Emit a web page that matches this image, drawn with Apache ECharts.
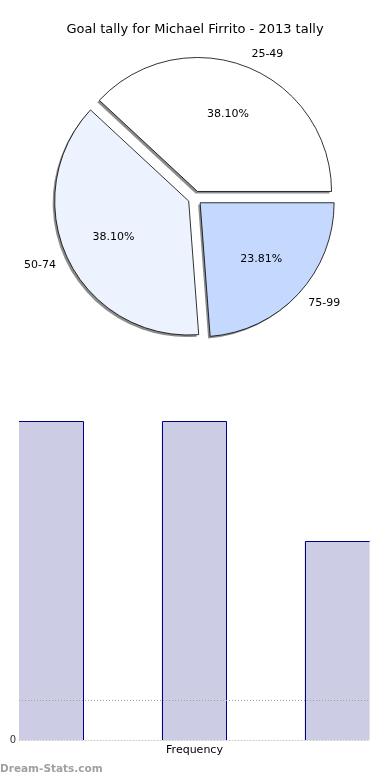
<!DOCTYPE html>
<html>
<head>
<meta charset="utf-8">
<script src="https://cdn.jsdelivr.net/npm/echarts@6/dist/echarts.min.js"></script>
<style>
  html, body { margin: 0; padding: 0; background: #fff; }
  #chart { width: 390px; height: 780px; }
</style>
</head>
<body>
<div id="chart"></div>
<script>
// ---- data ----
const titleText = 'Goal tally for Michael Firrito - 2013 tally';
const categories = ['25-49', '50-74', '75-99'];
const tallies = [8, 8, 5];
const sliceColors = ['#ffffff', '#ecf2fe', '#c5d8fd'];
const barPositions = [0, 1, 2];
const barValues = [8, 8, 5];
const yTickLabels = ['0'];
const refLineValues = [1];
const xAxisName = 'Frequency';
const watermark = 'Dream-Stats.com';

const FONT = 'DejaVu Sans';
const PIE_R = 134;
const PIE_CENTER = [195, 198];
const SHADOW_CENTER = [PIE_CENTER[0] - 2, PIE_CENTER[1] + 2];
const BAR_HALF = 32.5;
const tallyTotal = tallies.reduce((a, b) => a + b, 0);

const makePieData = (withColor) => categories.map((c, i) => {
  const d = { name: c, value: tallies[i], selected: true };
  if (withColor) d.itemStyle = { color: sliceColors[i] };
  return d;
});

const chart = echarts.init(document.getElementById('chart'), null, { renderer: 'canvas' });

const pieCommon = {
  type: 'pie',
  startAngle: 0,
  clockwise: false,
  selectedMode: 'multiple',
  selectedOffset: 7,
  avoidLabelOverlap: false,
  emphasis: { disabled: true },
  silent: true
};

const option = {
  animation: false,
  backgroundColor: '#ffffff',
  title: {
    text: titleText,
    left: 'center',
    top: 23,
    padding: 0,
    textStyle: { fontFamily: FONT, fontSize: 13, fontWeight: 'normal', color: '#000' }
  },
  grid: { left: 19, right: 20, top: 421, bottom: 40, containLabel: false },
  xAxis: {
    type: 'value',
    min: -0.225,
    max: 2.23,
    name: xAxisName,
    nameLocation: 'middle',
    nameGap: 5,
    nameTextStyle: { fontFamily: FONT, fontSize: 11, color: '#000' },
    axisLabel: { show: false },
    axisTick: { show: false },
    splitLine: { show: false },
    axisLine: { show: true, onZero: false, lineStyle: { color: '#c8c8c8', width: 1, type: [1, 2] } }
  },
  yAxis: {
    type: 'value',
    min: 0,
    max: 8,
    interval: 1,
    axisLine: { show: false },
    axisTick: { show: false },
    splitLine: { show: false },
    axisLabel: {
      margin: 3,
      fontFamily: FONT,
      fontSize: 10,
      color: '#333',
      formatter: (v) => (yTickLabels.indexOf(String(v)) >= 0 ? String(v) : '')
    }
  },
  graphic: [{
    type: 'text',
    left: 0,
    top: 764,
    style: { text: watermark, font: 'bold 10.5px "DejaVu Sans"', fill: '#a0a0a0' }
  }],
  series: [
    Object.assign({}, pieCommon, {
      center: SHADOW_CENTER,
      radius: PIE_R,
      z: 1,
      itemStyle: { color: 'rgba(0,0,0,0.45)', borderWidth: 0 },
      label: { show: false },
      labelLine: { show: false },
      data: makePieData(false)
    }),
    Object.assign({}, pieCommon, {
      center: PIE_CENTER,
      radius: PIE_R,
      z: 2,
      itemStyle: { borderColor: '#000', borderWidth: 0.8 },
      label: {
        show: true,
        position: 'outside',
        formatter: '{b}',
        fontFamily: FONT,
        fontSize: 11,
        color: '#000',
        distanceToLabelLine: 0
      },
      labelLine: { show: false, length: PIE_R * 0.1, length2: 0 },
      data: makePieData(true)
    }),
    Object.assign({}, pieCommon, {
      center: PIE_CENTER,
      radius: PIE_R * 1.2,
      z: 3,
      itemStyle: { color: 'rgba(0,0,0,0)', borderWidth: 0 },
      label: {
        show: true,
        position: 'inside',
        formatter: (p) => (p.value / tallyTotal * 100).toFixed(2) + '%',
        fontFamily: FONT,
        fontSize: 11,
        color: '#000'
      },
      labelLine: { show: false },
      data: makePieData(false)
    }),
    {
      type: 'custom',
      silent: true,
      data: barPositions.map((x, i) => [x, barValues[i]]),
      encode: { x: 0, y: 1 },
      renderItem: function (params, api) {
        const xv = api.value(0), yv = api.value(1);
        const top = api.coord([xv, yv]);
        const base = api.coord([xv, 0]);
        const cs = params.coordSys;
        const l = top[0] - BAR_HALF, r = top[0] + BAR_HALF;
        const lc = Math.max(l, cs.x), rc = Math.min(r, cs.x + cs.width);
        const ty = Math.round(top[1]) + 0.5;
        const by = base[1];
        const children = [{
          type: 'rect',
          shape: { x: lc, y: ty, width: rc - lc, height: by - ty },
          style: { fill: '#ccccE5' }
        }];
        const pts = [];
        const leftOk = l > cs.x + 2, rightOk = r < cs.x + cs.width - 2;
        const lx = Math.round(l) + 0.5, rx = Math.round(r) - 0.5;
        if (leftOk) pts.push([lx, by]);
        pts.push([leftOk ? lx : lc, ty]);
        pts.push([rightOk ? rx : rc, ty]);
        if (rightOk) pts.push([rx, by]);
        children.push({
          type: 'polyline',
          shape: { points: pts },
          style: { stroke: '#000080', lineWidth: 1, fill: null }
        });
        return { type: 'group', children: children };
      },
      markLine: {
        silent: true,
        symbol: 'none',
        label: { show: false },
        lineStyle: { color: '#a0a0a0', width: 1, type: [1, 2] },
        data: refLineValues.map(v => ({ yAxis: v }))
      },
      z: 4
    }
  ]
};
chart.setOption(option);
</script>
</body>
</html>
